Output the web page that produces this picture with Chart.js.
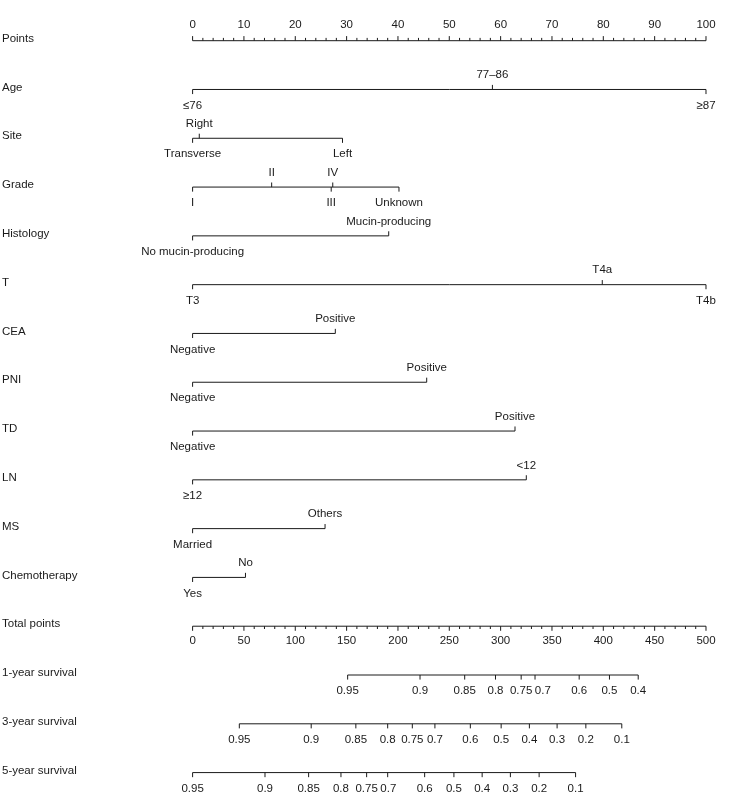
<!DOCTYPE html>
<html>
<head>
<meta charset="utf-8">
<script src="https://cdn.jsdelivr.net/npm/chart.js@4.4.1/dist/chart.umd.min.js"></script>
<style>
  html, body { margin: 0; padding: 0; background: #fff; }
  #wrap { width: 741px; height: 799px; position: relative; }
</style>
</head>
<body>
<div id="wrap"><canvas id="canvas"></canvas></div>
<script>
// row names, top to bottom
var rowNames = ['Points', 'Age', 'Site', 'Grade', 'Histology', 'T', 'CEA', 'PNI', 'TD', 'LN', 'MS',
    'Chemotherapy', 'Total points', '1-year survival', '3-year survival', '5-year survival'];

// points scale
var pointsTicks = [0, 10, 20, 30, 40, 50, 60, 70, 80, 90, 100];

// predictor levels and their points
var ageLevels = ['≤76', '77–86', '≥87'];
var agePoints = [0, 58.4, 100];
var siteLevels = ['Transverse', 'Right', 'Left'];
var sitePoints = [0, 1.3, 29.2];
var gradeLevels = ['I', 'II', 'III', 'IV', 'Unknown'];
var gradePoints = [0, 15.4, 27.0, 27.3, 40.2];
var histologyLevels = ['No mucin-producing', 'Mucin-producing'];
var histologyPoints = [0, 38.2];
var tLevels = ['T3', 'T4a', 'T4b'];
var tPoints = [0, 79.8, 100];
var ceaLevels = ['Negative', 'Positive'];
var ceaPoints = [0, 27.8];
var pniLevels = ['Negative', 'Positive'];
var pniPoints = [0, 45.6];
var tdLevels = ['Negative', 'Positive'];
var tdPoints = [0, 62.8];
var lnLevels = ['≥12', '<12'];
var lnPoints = [0, 65.0];
var msLevels = ['Married', 'Others'];
var msPoints = [0, 25.8];
var chemoLevels = ['Yes', 'No'];
var chemoPoints = [0, 10.3];

// total points scale
var totalTicks = [0, 50, 100, 150, 200, 250, 300, 350, 400, 450, 500];

// survival probabilities and the total points where they fall
var surv1Labels = ['0.95', '0.9', '0.85', '0.8', '0.75', '0.7', '0.6', '0.5', '0.4'];
var surv1Total = [151, 221.5, 265, 295, 320, 333.5, 376.5, 406, 434];
var surv3Labels = ['0.95', '0.9', '0.85', '0.8', '0.75', '0.7', '0.6', '0.5', '0.4', '0.3', '0.2', '0.1'];
var surv3Total = [45.5, 115.5, 159, 190, 214, 236, 270.5, 300.5, 328, 355, 383, 418];
var surv5Labels = ['0.95', '0.9', '0.85', '0.8', '0.75', '0.7', '0.6', '0.5', '0.4', '0.3', '0.2', '0.1'];
var surv5Total = [0, 70.5, 113, 144.5, 169.5, 190, 226, 254.5, 282, 309.5, 337.5, 373];

var predictors = [
    [ageLevels, agePoints], [siteLevels, sitePoints], [gradeLevels, gradePoints],
    [histologyLevels, histologyPoints], [tLevels, tPoints], [ceaLevels, ceaPoints],
    [pniLevels, pniPoints], [tdLevels, tdPoints], [lnLevels, lnPoints],
    [msLevels, msPoints], [chemoLevels, chemoPoints]
];
var survivals = [[surv1Labels, surv1Total], [surv3Labels, surv3Total], [surv5Labels, surv5Total]];

var ink = '#1a1a1a';
var unit = 49.2;          // px per row
var tickLong = 4.6 / unit;
var tickShort = 2.8 / unit;

function toPts(total) { return total / 5; }

var datasets = [];
var texts = [];   // {x, row, dy, text, group}
var ticks = { long: [], short: [] };

function addLine(row, x0, x1) {
    datasets.push({
        data: [{ x: x0, y: row }, { x: x1, y: row }],
        showLine: true, borderColor: ink, borderWidth: 1, pointRadius: 0, pointHoverRadius: 0
    });
}
function addTick(row, x, up, short) {
    var len = short ? tickShort : tickLong;
    (short ? ticks.short : ticks.long).push({ x: x, y: up ? row - len / 2 : row + len / 2 });
}

// Points axis
addLine(0, 0, 100);
for (var p = 0; p <= 100; p += 2) addTick(0, p, true, p % 10 !== 0);
pointsTicks.forEach(function (v) { texts.push({ x: v, row: 0, dy: -16, text: String(v) }); });

// predictors
predictors.forEach(function (pr, i) {
    var row = i + 1, levels = pr[0], pts = pr[1];
    addLine(row, Math.min.apply(null, pts), Math.max.apply(null, pts));
    pts.forEach(function (v, j) {
        var above = j % 2 === 1;
        addTick(row, v, above, false);
        texts.push({ x: v, row: row, dy: above ? -14.5 : 16, text: levels[j] });
    });
});

// Total points axis
addLine(12, 0, 100);
for (var t = 0; t <= 500; t += 10) addTick(12, toPts(t), false, t % 50 !== 0);
totalTicks.forEach(function (v) { texts.push({ x: toPts(v), row: 12, dy: 15, text: String(v) }); });

// survival axes (labels nudged apart when they would collide)
survivals.forEach(function (s, i) {
    var row = 13 + i, labels = s[0], tot = s[1];
    addLine(row, toPts(tot[0]), toPts(tot[tot.length - 1]));
    tot.forEach(function (v, j) {
        addTick(row, toPts(v), false, false);
        texts.push({ x: toPts(v), row: row, dy: 16, text: labels[j], group: 'surv' + i });
    });
});

datasets.push({
    data: ticks.long, pointStyle: 'line', rotation: 90, radius: 2.3, borderColor: ink, borderWidth: 1,
    pointHoverRadius: 2.3
});
datasets.push({
    data: ticks.short, pointStyle: 'line', rotation: 90, radius: 1.4, borderColor: ink, borderWidth: 1,
    pointHoverRadius: 1.4
});

var font = '11.5px "Liberation Sans", Arial, sans-serif';

var labelPlugin = {
    id: 'nomoLabels',
    afterDatasetsDraw: function (chart) {
        var c = chart.ctx, xs = chart.scales.x, ys = chart.scales.y;
        c.save();
        c.font = font;
        c.fillStyle = ink;
        c.textBaseline = 'middle';
        c.textAlign = 'left';
        rowNames.forEach(function (name, r) {
            c.fillText(name, 2, ys.getPixelForValue(r) - 2);
        });
        c.textAlign = 'center';
        var lastRight = {};
        texts.forEach(function (t) {
            var px = xs.getPixelForValue(t.x);
            var w = c.measureText(t.text).width;
            if (t.group) {
                var prev = lastRight[t.group];
                if (prev !== undefined && px - w / 2 < prev + 2.5) px = prev + 2.5 + w / 2;
                lastRight[t.group] = px + w / 2;
            }
            c.fillText(t.text, px, ys.getPixelForValue(t.row) + t.dy);
        });
        c.restore();
    }
};

var myChart = {
    type: 'scatter',
    data: { datasets: datasets },
    options: {
        responsive: true,
        maintainAspectRatio: false,
        animation: false,
        layout: { padding: 0 },
        plugins: { legend: { display: false }, tooltip: { enabled: false } },
        scales: {
            x: { type: 'linear', display: false, min: -191 / 5.18, max: (741 - 191) / 5.18 },
            y: { type: 'linear', display: false, reverse: true, min: -37.7 / unit, max: (799 - 37.7) / unit }
        }
    },
    plugins: [labelPlugin]
};

window.onload = function () {
    var ctx = document.getElementById('canvas').getContext('2d');
    new Chart(ctx, myChart);
};
</script>
</body>
</html>
